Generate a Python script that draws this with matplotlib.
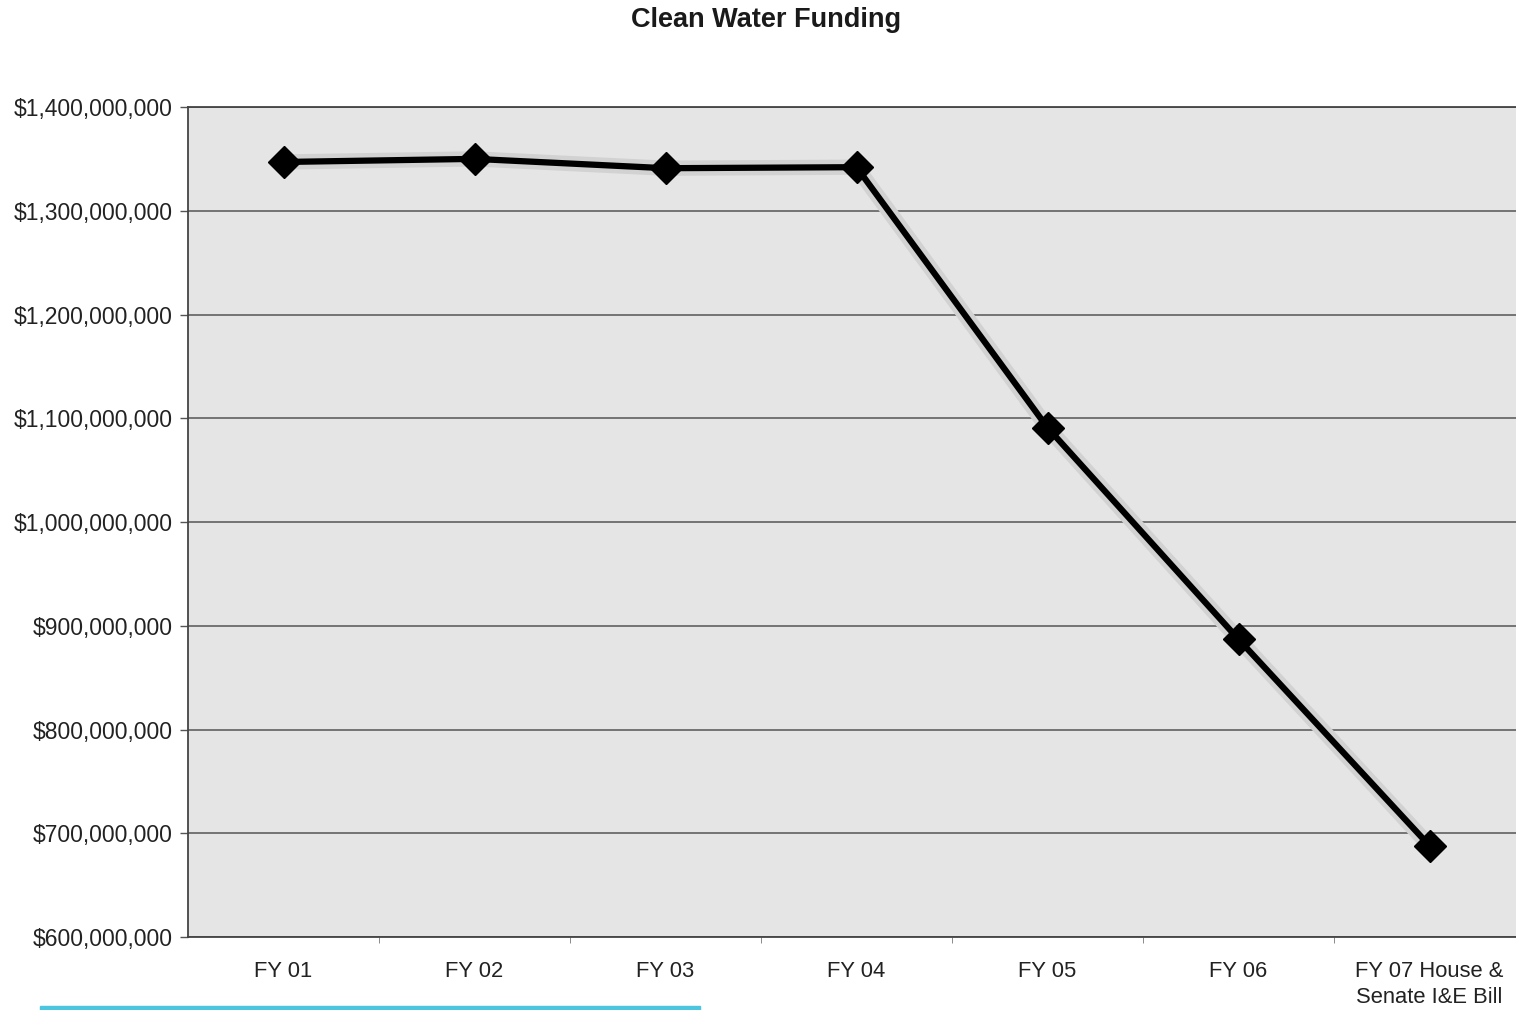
import matplotlib
matplotlib.use("Agg")
from matplotlib import pyplot as plt
from matplotlib import ticker
from matplotlib.patches import Rectangle

plt.rcParams['font.family'] = ['Liberation Sans', 'DejaVu Sans']

years = ['FY 01', 'FY 02', 'FY 03', 'FY 04', 'FY 05', 'FY 06', 'FY 07 House &\nSenate I&E Bill']
funding = [1347e6, 1350e6, 1341e6, 1342e6, 1091e6, 887e6, 688e6]
y_ticks = [600e6, 700e6, 800e6, 900e6, 1000e6, 1100e6, 1200e6, 1300e6, 1400e6]


def create_figure():
    fig = plt.figure(figsize=(15.16, 10.10), dpi=100, facecolor='white')
    # plot area runs a bit past the right edge, as in the scan
    ax = fig.add_axes([188 / 1516, 73 / 1010, 1337 / 1516, 830 / 1010])
    ax.set_facecolor('#e5e5e5')
    fig.text(766 / 1516, 1 - 20 / 1010, "Clean Water Funding", ha='center', va='center',
             fontsize=19.5, fontweight='bold', color='#1a1a1a')
    # bit of a cyan strip left at the very bottom of the page
    fig.patches.append(Rectangle((40 / 1516, 0), 660 / 1516, 4 / 1010, transform=fig.transFigure,
                                 color='#4cc6df', zorder=5))
    return fig, ax


def draw_line(ax):
    x = list(range(len(years)))
    ax.plot(x, funding, color='#d2d2d2', linewidth=11, solid_capstyle='round', zorder=2)
    ax.plot(x, funding, color='black', linewidth=4.5, marker='D', markersize=16.5,
            markerfacecolor='black', markeredgecolor='black', zorder=3)


def style_axes(ax):
    ax.set_xlim(-0.5, len(years) - 0.5)
    ax.set_ylim(y_ticks[0], y_ticks[-1])
    ax.set_yticks(y_ticks)
    ax.yaxis.set_major_formatter(ticker.FuncFormatter(lambda v, _: f"${v:,.0f}"))
    ax.set_xticks(range(len(years)))
    ax.set_xticklabels(years, linespacing=1.35)
    ax.set_xticks([i + 0.5 for i in range(len(years) - 1)], minor=True)
    ax.tick_params(axis='x', which='major', length=0, pad=17, labelsize=15.8, labelcolor='#222222')
    ax.tick_params(axis='x', which='minor', length=4, direction='out', color='#777777')
    ax.tick_params(axis='y', length=6, width=1, pad=5, labelsize=16.5, labelcolor='#222222',
                   color='#555555')
    ax.grid(axis='y', color='#555555', linewidth=1.1)
    ax.set_axisbelow(True)
    for side in ('left', 'top', 'bottom'):
        ax.spines[side].set_color('#444444')
        ax.spines[side].set_linewidth(1.3)
    ax.spines['right'].set_visible(False)


def main():
    fig, ax = create_figure()
    draw_line(ax)
    style_axes(ax)
    fig.savefig('out.png', dpi=100)


if __name__ == "__main__":
    main()
